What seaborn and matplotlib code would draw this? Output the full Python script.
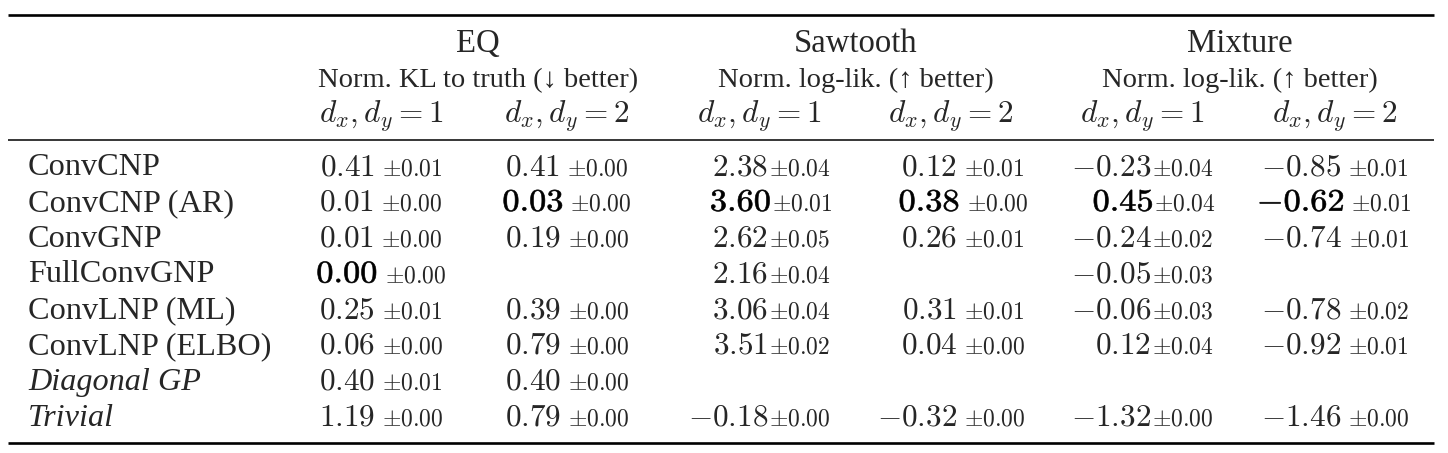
import matplotlib
matplotlib.use("Agg")
import matplotlib.pyplot as plt
import seaborn as sns
import numpy as np
import pandas as pd
from matplotlib.textpath import TextPath
from matplotlib.patches import PathPatch
from matplotlib.transforms import Affine2D

# ---- table contents ----
models = ["ConvCNP", "ConvCNP (AR)", "ConvGNP", "FullConvGNP",
          "ConvLNP (ML)", "ConvLNP (ELBO)", "Diagonal GP", "Trivial"]
italic_models = ["Diagonal GP", "Trivial"]

groups = ["EQ", "Sawtooth", "Mixture"]
metrics = ["Norm. KL to truth (\u2193 better)",
           "Norm. log-lik. (\u2191 better)",
           "Norm. log-lik. (\u2191 better)"]
dims = ["$d_x, d_y = 1$", "$d_x, d_y = 2$"]

eq_d1_mean = [0.41, 0.01, 0.01, 0.00, 0.25, 0.06, 0.40, 1.19]
eq_d1_std = [0.01, 0.00, 0.00, 0.00, 0.01, 0.00, 0.01, 0.00]
eq_d2_mean = [0.41, 0.03, 0.19, None, 0.39, 0.79, 0.40, 0.79]
eq_d2_std = [0.00, 0.00, 0.00, None, 0.00, 0.00, 0.00, 0.00]
saw_d1_mean = [2.38, 3.60, 2.62, 2.16, 3.06, 3.51, None, -0.18]
saw_d1_std = [0.04, 0.01, 0.05, 0.04, 0.04, 0.02, None, 0.00]
saw_d2_mean = [0.12, 0.38, 0.26, None, 0.31, 0.04, None, -0.32]
saw_d2_std = [0.01, 0.00, 0.01, None, 0.01, 0.00, None, 0.00]
mix_d1_mean = [-0.23, 0.45, -0.24, -0.05, -0.06, 0.12, None, -1.32]
mix_d1_std = [0.04, 0.04, 0.02, 0.03, 0.03, 0.04, None, 0.00]
mix_d2_mean = [-0.85, -0.62, -0.74, None, -0.78, -0.92, None, -1.46]
mix_d2_std = [0.01, 0.01, 0.01, None, 0.02, 0.01, None, 0.00]

# row index of the best entry in each column
best_row = [3, 1, 1, 1, 1, 1]

columns = [(eq_d1_mean, eq_d1_std), (eq_d2_mean, eq_d2_std),
           (saw_d1_mean, saw_d1_std), (saw_d2_mean, saw_d2_std),
           (mix_d1_mean, mix_d1_std), (mix_d2_mean, mix_d2_std)]

# ---- layout (pixels) ----
W, H = 1448, 453
col_x = [381, 567, 759, 951, 1142, 1335]
col_gap = [7, 7, 1, 7, 1, 7]
group_x = [478, 856, 1240]
row_y0, row_dy = 175, 35.8
label_x = 28
size_group, size_metric, size_label = 23.6, 20.5, 23.2
size_mean, size_std = 22.5, 17

sns.set_theme(style="white")
plt.rcParams['font.family'] = ['Liberation Serif', 'DejaVu Serif']
plt.rcParams['mathtext.fontset'] = 'cm'

fig = plt.figure(figsize=(W / 100, H / 100), dpi=100)
ax = fig.add_axes([0, 0, 1, 1])
ax.set_xlim(0, W)
ax.set_ylim(H, 0)
ax.axis('off')

# rules
ax.hlines(15, 8, 1434, color='black', lw=1.9)
ax.hlines(140, 8, 1434, color='black', lw=1.1)
ax.hlines(443, 8, 1434, color='black', lw=1.9)

# header
for g, m, gx in zip(groups, metrics, group_x):
    ax.text(gx, 52, g, ha='center', va='baseline', fontsize=size_group)
    ax.text(gx, 87, m, ha='center', va='baseline', fontsize=size_metric)
for i, cx in enumerate(col_x):
    ax.text(cx, 123, dims[i % 2], ha='center', va='baseline',
            fontsize=size_mean)

# row labels
for r, name in enumerate(models):
    style = 'italic' if name in italic_models else 'normal'
    ax.text(label_x, row_y0 + r * row_dy, name, ha='left', va='baseline',
            fontsize=size_label, style=style)

# cells: mean + small std, centred like a LaTeX column (phantom minus)
renderer = fig.canvas.get_renderer()


def width(t):
    return t.get_window_extent(renderer).width


probe1 = ax.text(0, -100, "$-0.00$", fontsize=size_mean)
probe2 = ax.text(0, -100, "$0.00$", fontsize=size_mean)
minus_w = width(probe1) - width(probe2)
probe1.remove()
probe2.remove()

px = size_mean * 100 / 72  # font size in pixels
bold_sx = 1.1

for c, (means, stds) in enumerate(columns):
    has_neg = any(v is not None and v < 0 for v in means)
    for r, (mu, sd) in enumerate(zip(means, stds)):
        if mu is None:
            continue
        y = row_y0 + r * row_dy
        s = f"{mu:.2f}"
        t_sd = ax.text(0, y, f"$\\pm{sd:.2f}$", ha='left', va='baseline',
                       fontsize=size_std)
        ws = width(t_sd)
        p = minus_w if (has_neg and mu >= 0) else 0
        if r == best_row[c]:
            tp = TextPath((0, 0), "$\\mathbf{" + s + "}$", size=px)
            ext = tp.get_extents()
            wm = ext.width * bold_sx + 3
            total = p + wm + col_gap[c] + ws
            left = col_x[c] - total / 2
            tr = (Affine2D().translate(-ext.x0, 0).scale(bold_sx, -1)
                  .translate(left + p + 1.5, y))
            ax.add_patch(PathPatch(tr.transform_path(tp), facecolor='black',
                                   edgecolor='black', lw=0.45))
        else:
            t_mu = ax.text(0, y, "$" + s + "$", ha='left', va='baseline',
                           fontsize=size_mean)
            wm = width(t_mu)
            total = p + wm + col_gap[c] + ws
            left = col_x[c] - total / 2
            t_mu.set_x(left + p)
        t_sd.set_x(left + p + wm + col_gap[c])

fig.savefig("out.png", dpi=100)
